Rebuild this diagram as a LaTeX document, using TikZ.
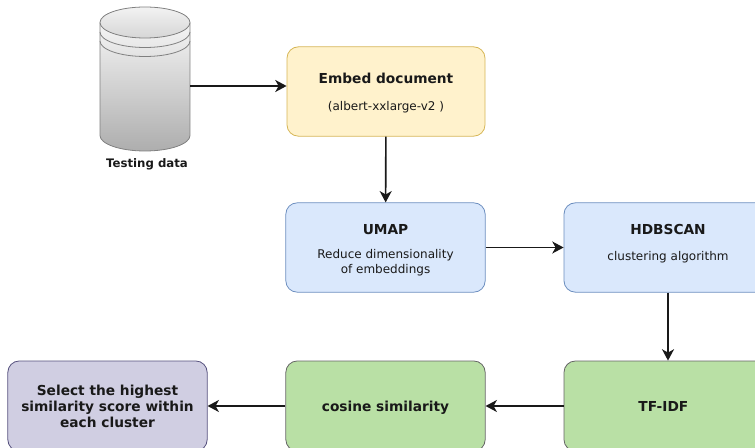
\documentclass[tikz,border=0pt]{standalone}
\usepackage{fontspec}
\setmainfont{DejaVu Sans}
\usetikzlibrary{positioning,arrows.meta,calc}
\definecolor{yfill}{HTML}{FFF2CC}\definecolor{ydraw}{HTML}{D6B656}
\definecolor{bfill}{HTML}{DAE8FC}\definecolor{bdraw}{HTML}{6C8EBF}
\definecolor{gfill}{HTML}{B9E0A5}\definecolor{pfill}{HTML}{D0CEE2}\definecolor{pdraw}{HTML}{56517E}
\tikzset{
	flowbox/.style={rectangle,rounded corners=8.5pt,line width=0.6pt,inner sep=0pt,align=center,text=black!90,font=\fontsize{9}{12}\selectfont,minimum width=149.5pt,minimum height=67pt},
	embedbox/.style={flowbox,draw=ydraw,fill=yfill},
	bluebox/.style={flowbox,draw=bdraw,fill=bfill},
	greenbox/.style={flowbox,draw=black!60,fill=gfill},
	purplebox/.style={flowbox,draw=pdraw,fill=pfill},
	flowarrow/.style={line width=1.2pt,black!90,-{Stealth[length=8.5pt,width=9pt,inset=2.5pt]}},
	dbline/.style={draw=black!50,line width=0.6pt}
}
\newcommand{\boxhead}[1]{{\fontsize{10.3}{12}\selectfont\bfseries #1}}
\newcommand{\pushdown}[1]{\rule{0pt}{#1}}
\begin{document}
\begin{tikzpicture}[x=0.75pt,y=-0.75pt]
	\useasboundingbox (0,0) rectangle (755,448);
	\clip (0,0) rectangle (755,448);
	% database
	\shade [dbline,top color=black!4,bottom color=black!32]
		(100,23) -- (190,23) -- (190,135.5) arc (0:180:45 and 15.5) -- cycle;
	\shade [dbline,top color=black!5,bottom color=black!16]
		(145,22.5) ellipse (45 and 15.5);
	\draw [dbline] (100,32) arc (180:0:45 and 15.5);
	\draw [dbline] (100,41) arc (180:0:45 and 15.5);
	\node (data) [minimum width=67.5pt,minimum height=108pt,inner sep=0pt] at (145,79) {};
	\node (datalabel) [font=\fontsize{8.8}{10}\selectfont\bfseries,text=black!90] at (147,164) {Testing data};
	\coordinate (dataout) at (190,86);
	% boxes
	\node (embed) [embedbox,minimum width=148.5pt] at (386,91.5) {\pushdown{10.6pt}\boxhead{Embed document}\\[8pt](albert-xxlarge-v2 )};
	\node (umap) [bluebox] at (385.5,247.5) {\pushdown{12pt}\boxhead{UMAP}\\[6pt]Reduce dimensionality\\[-1pt]of embeddings};
	\node (hdbscan) [bluebox,minimum width=156pt] at (668,247.5) {\boxhead{HDBSCAN}\\[7pt]clustering algorithm\\[-4.5pt]\mbox{}};
	\node (tfidf) [greenbox,minimum width=156pt,minimum height=67.5pt] at (668,406) {\boxhead{TF-IDF}\hspace{7pt}};
	\node (cosine) [greenbox,minimum height=67.5pt] at (385.5,406) {\pushdown{10.6pt}\boxhead{cosine similarity}};
	\node (select) [purplebox,minimum height=67.5pt] at (107.5,406) {\boxhead{Select the highest}\\\boxhead{similarity score within}\\\boxhead{each cluster}};
	% arrows
	\draw [flowarrow] (dataout) -- (dataout -| embed.west);
	\draw [flowarrow] (embed) -- (umap);
	\draw [flowarrow] (umap) -- (hdbscan);
	\draw [flowarrow] (hdbscan) -- (tfidf);
	\draw [flowarrow] (tfidf) -- (cosine);
	\draw [flowarrow] (cosine) -- (select);
\end{tikzpicture}
\end{document}
